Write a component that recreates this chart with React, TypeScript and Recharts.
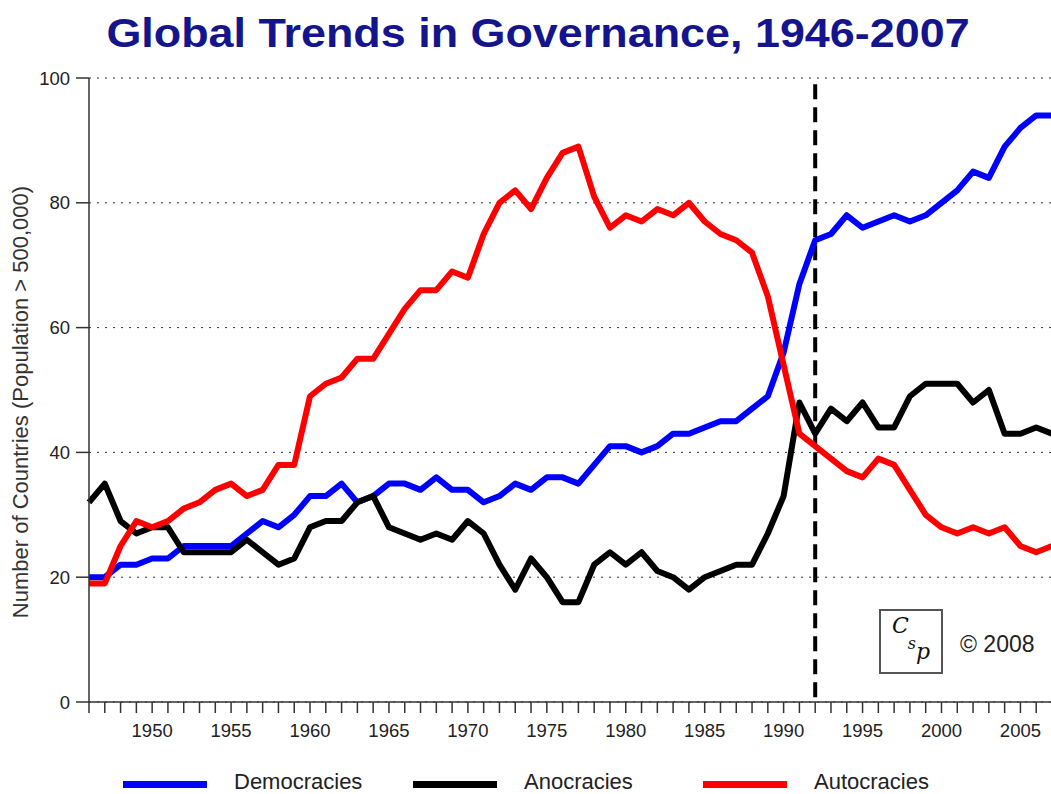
import { LineChart, Line, XAxis, YAxis, CartesianGrid, ReferenceLine } from 'recharts';

const years = [
  1946, 1947, 1948, 1949, 1950, 1951, 1952, 1953, 1954, 1955,
  1956, 1957, 1958, 1959, 1960, 1961, 1962, 1963, 1964, 1965,
  1966, 1967, 1968, 1969, 1970, 1971, 1972, 1973, 1974, 1975,
  1976, 1977, 1978, 1979, 1980, 1981, 1982, 1983, 1984, 1985,
  1986, 1987, 1988, 1989, 1990, 1991, 1992, 1993, 1994, 1995,
  1996, 1997, 1998, 1999, 2000, 2001, 2002, 2003, 2004, 2005,
  2006, 2007,
];

const democracies = [
  20, 20, 22, 22, 23, 23, 25, 25, 25, 25,
  27, 29, 28, 30, 33, 33, 35, 32, 33, 35,
  35, 34, 36, 34, 34, 32, 33, 35, 34, 36,
  36, 35, 38, 41, 41, 40, 41, 43, 43, 44,
  45, 45, 47, 49, 56, 67, 74, 75, 78, 76,
  77, 78, 77, 78, 80, 82, 85, 84, 89, 92,
  94, 94,
];

const anocracies = [
  32, 35, 29, 27, 28, 28, 24, 24, 24, 24,
  26, 24, 22, 23, 28, 29, 29, 32, 33, 28,
  27, 26, 27, 26, 29, 27, 22, 18, 23, 20,
  16, 16, 22, 24, 22, 24, 21, 20, 18, 20,
  21, 22, 22, 27, 33, 48, 43, 47, 45, 48,
  44, 44, 49, 51, 51, 51, 48, 50, 43, 43,
  44, 43,
];

const autocracies = [
  19, 19, 25, 29, 28, 29, 31, 32, 34, 35,
  33, 34, 38, 38, 49, 51, 52, 55, 55, 59,
  63, 66, 66, 69, 68, 75, 80, 82, 79, 84,
  88, 89, 81, 76, 78, 77, 79, 78, 80, 77,
  75, 74, 72, 65, 54, 43, 41, 39, 37, 36,
  39, 38, 34, 30, 28, 27, 28, 27, 28, 25,
  24, 25,
];

const labeledYears = [1950, 1955, 1960, 1965, 1970, 1975, 1980, 1985, 1990, 1995, 2000, 2005];
const yTicks = [0, 20, 40, 60, 80, 100];
const markerYear = 1992;

const SERIES = [
  { key: 'democracies', name: 'Democracies', color: '#0000ff', legendX: 123 },
  { key: 'anocracies', name: 'Anocracies', color: '#000000', legendX: 413 },
  { key: 'autocracies', name: 'Autocracies', color: '#ff0000', legendX: 703 },
];

const FONT = '"Liberation Sans", Arial, sans-serif';

const data = years.map((year, i) => ({
  year,
  democracies: democracies[i],
  anocracies: anocracies[i],
  autocracies: autocracies[i],
}));

function YearTick(props: any) {
  const { x, y, payload } = props;
  if (!labeledYears.includes(payload.value)) return <g />;
  return (
    <text x={x} y={y} dy={22} textAnchor="middle" fontSize={18.5} fill="#222" fontFamily={FONT}>
      {payload.value}
    </text>
  );
}

export default function App() {
  return (
    <div style={{ position: 'absolute', left: 0, top: 0, width: 1051, height: 794, overflow: 'hidden', background: '#fff' }}>
      <LineChart width={1060} height={794} data={data} margin={{ top: 78, right: 8, left: 0, bottom: 52 }}>
        <CartesianGrid horizontal vertical={false} stroke="#333" strokeDasharray="2 6" />
        <XAxis
          dataKey="year"
          type="number"
          domain={[1946, 2007]}
          ticks={years}
          interval={0}
          height={40}
          tickSize={11}
          tick={<YearTick />}
          stroke="#333"
          strokeWidth={1.5}
        />
        <YAxis
          domain={[0, 100]}
          ticks={yTicks}
          width={89}
          tickSize={13}
          tickMargin={6}
          stroke="#333"
          strokeWidth={1.5}
          tick={{ fontSize: 18.5, fill: '#222', fontFamily: FONT }}
        />
        <ReferenceLine
          segment={[{ x: markerYear, y: 99 }, { x: markerYear, y: 0 }]}
          stroke="#000"
          strokeWidth={4}
          strokeDasharray="15 8"
        />
        {SERIES.map((s) => (
          <Line
            key={s.key}
            type="linear"
            dataKey={s.key}
            name={s.name}
            stroke={s.color}
            strokeWidth={6}
            strokeLinejoin="round"
            dot={false}
            activeDot={false}
            isAnimationActive={false}
          />
        ))}
      </LineChart>

      <svg width={1051} height={794} style={{ position: 'absolute', left: 0, top: 0, pointerEvents: 'none' }}>
        {/* original title is a bit wider than Arial bold, stretch it horizontally */}
        <text
          transform="translate(538, 47) scale(1.095, 1)"
          textAnchor="middle"
          fontSize={41}
          fontWeight="bold"
          fill="#14148c"
          fontFamily={FONT}
        >
          Global Trends in Governance, 1946-2007
        </text>
        <text
          transform="translate(28, 402) rotate(-90)"
          textAnchor="middle"
          fontSize={22}
          fill="#333"
          fontFamily={FONT}
        >
          Number of Countries (Population &gt; 500,000)
        </text>

        {/* csp logo + copyright */}
        <rect x={880} y={610} width={62} height={63} fill="#fff" stroke="#555" strokeWidth={2} />
        <text x={892} y={633} fontSize={22} fontStyle="italic" fontFamily='"DejaVu Serif", serif' fill="#111">
          C
          <tspan dx={-1} dy={16} fontSize={16}>s</tspan>
          <tspan dx={0} dy={10} fontSize={22}>p</tspan>
        </text>
        <text x={960} y={652} fontSize={23} fill="#222" fontFamily={FONT}>© 2008</text>

        {SERIES.map((s) => (
          <g key={s.key}>
            <rect x={s.legendX} y={781} width={84} height={7} fill={s.color} />
            <text x={s.legendX + 111} y={789} fontSize={22} fill="#222" fontFamily={FONT}>
              {s.name}
            </text>
          </g>
        ))}
      </svg>
    </div>
  );
}
